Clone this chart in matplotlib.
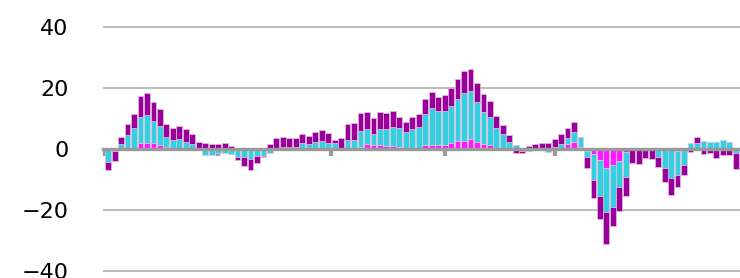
import numpy as np
import matplotlib
matplotlib.use("Agg")
import matplotlib.pyplot as plt

# contribution of each component per period (signed segment sizes)
magenta = [0, 0, 0, 0, 0, 1.9, 2.1, 1.9, 1.3, 0.5,
           0, 0, 0, 0, 0, 0, 0, 0, 0, 0,
           0, 0, 0, 0, 0, 0, 0, 0, 0, 0,
           0, 0, 0, 0, 0, 0, 0, 0, 0, 0.5,
           1.6, 1.3, 1.3, 1.0, 1.0, 0.5, 0.3, 0.3, 0.3, 1.3,
           1.3, 1.3, 1.3, 2.1, 2.7, 2.6, 3.3, 2.2, 1.6, 1.3,
           0.3, 0, 0, 0, 0, 0, 0, 0, 0, 0,
           0, 1.5, 2.4, 0.5, -0.5, -1.7, -3.6, -6.1, -5.2, -3.9,
           -0.9, 0, 0, 0, 0, 0, 0, 0, -0.5, 0,
           0, 0, 0, 0, 0, 0, 0, 0]
cyan = [-4.3, -0.5, 1.6, 4.6, 6.8, 8.7, 9.0, 7.3, 6.3, 3.3,
        3.0, 3.3, 2.4, 1.6, 0.3, -2.0, -2.0, -1.4, -1.2, -1.6,
        -2.5, -2.7, -3.4, -2.3, -2.3, -1.2, 0.4, 0.5, 0.5, 0.5,
        1.9, 1.5, 2.3, 2.6, 2.1, 2.1, 0.3, 3.0, 3.0, 5.4,
        4.9, 3.5, 5.2, 5.5, 6.3, 6.3, 5.4, 6.2, 7.0, 10.1,
        12.0, 11.2, 11.2, 12.1, 13.6, 15.7, 15.7, 13.1, 10.6, 9.1,
        6.7, 4.8, 2.4, 1.2, -0.5, -0.7, 0.3, 0.3, -1.0, 0.5,
        1.5, 2.0, 3.3, 3.3, -2.0, -8.5, -11.7, -14.7, -13.9, -8.7,
        -8.2, -0.3, -0.3, -0.2, -0.2, -2.5, -6.3, -9.6, -8.0, -5.2,
        1.9, 2.0, 2.7, 2.2, 2.3, 2.9, 2.4, -1.4]
purple = [-2.6, -3.5, 2.2, 3.5, 4.7, 6.9, 7.2, 6.3, 5.4, 4.3,
          4.0, 4.3, 4.0, 3.3, 2.1, 1.9, 1.5, 1.5, 2.1, 1.0,
          -1.1, -2.8, -3.5, -2.4, -0.3, 1.6, 3.1, 3.4, 3.0, 3.0,
          3.0, 2.9, 3.3, 3.6, 3.1, 0.9, 3.4, 5.1, 5.4, 5.8,
          5.7, 5.2, 5.5, 5.2, 5.2, 3.8, 3.0, 4.1, 4.1, 4.9,
          5.3, 4.7, 5.2, 5.9, 6.6, 7.4, 7.3, 6.2, 5.7, 5.4,
          3.9, 3.0, 2.2, -1.3, -0.8, 1.0, 1.3, 1.6, 1.8, 2.7,
          3.4, 3.5, 3.3, 0, -3.8, -6.0, -7.7, -10.3, -6.1, -7.6,
          -6.3, -4.4, -4.6, -2.9, -3.0, -3.3, -4.4, -5.5, -3.9, -3.3,
          -1.0, 1.8, -1.5, -1.4, -3.1, -2.0, -2.0, -5.3]

series = [("magenta", magenta, "#ff1aff"),
          ("cyan", cyan, "#33d0e0"),
          ("purple", purple, "#990099")]

fig = plt.figure(figsize=(7.4, 2.78), dpi=100)
ax = fig.add_axes([103 / 740, 0, 637 / 740, 1])

x = np.arange(len(cyan))
pos_base = np.zeros(len(x))
neg_base = np.zeros(len(x))
for name, vals, col in series:
    v = np.array(vals)
    base = np.where(v >= 0, pos_base, neg_base)
    ax.bar(x, v, bottom=base, width=0.9, color=col,
           edgecolor="#e3bfe3", linewidth=0.5, zorder=2)
    pos_base += np.where(v >= 0, v, 0)
    neg_base += np.where(v < 0, v, 0)

ax.set_xlim(-0.8, 97.65)
ax.set_ylim(-42.3, 48.85)

ax.set_yticks([-40, -20, 0, 20, 40])
ax.set_yticklabels(["\u221240", "\u221220", "0", "20", "40"])
for g in [-40, -20, 20, 40]:
    ax.axhline(g, color="#bdbdbd", lw=1.5, zorder=1)

for s in ["top", "right", "left"]:
    ax.spines[s].set_visible(False)
ax.spines["bottom"].set_position(("data", 0))
ax.spines["bottom"].set_color("#999999")
ax.spines["bottom"].set_linewidth(2.4)
ax.spines["bottom"].set_zorder(5)

ax.set_xticks([-0.5, 17, 34.5, 52, 69, 86.6])
ax.tick_params(axis="x", direction="out", length=5, width=3,
               color="#999999", labelbottom=False)
ax.tick_params(axis="y", length=0, pad=25, labelsize=16)

fig.savefig("out.png", dpi=100)
